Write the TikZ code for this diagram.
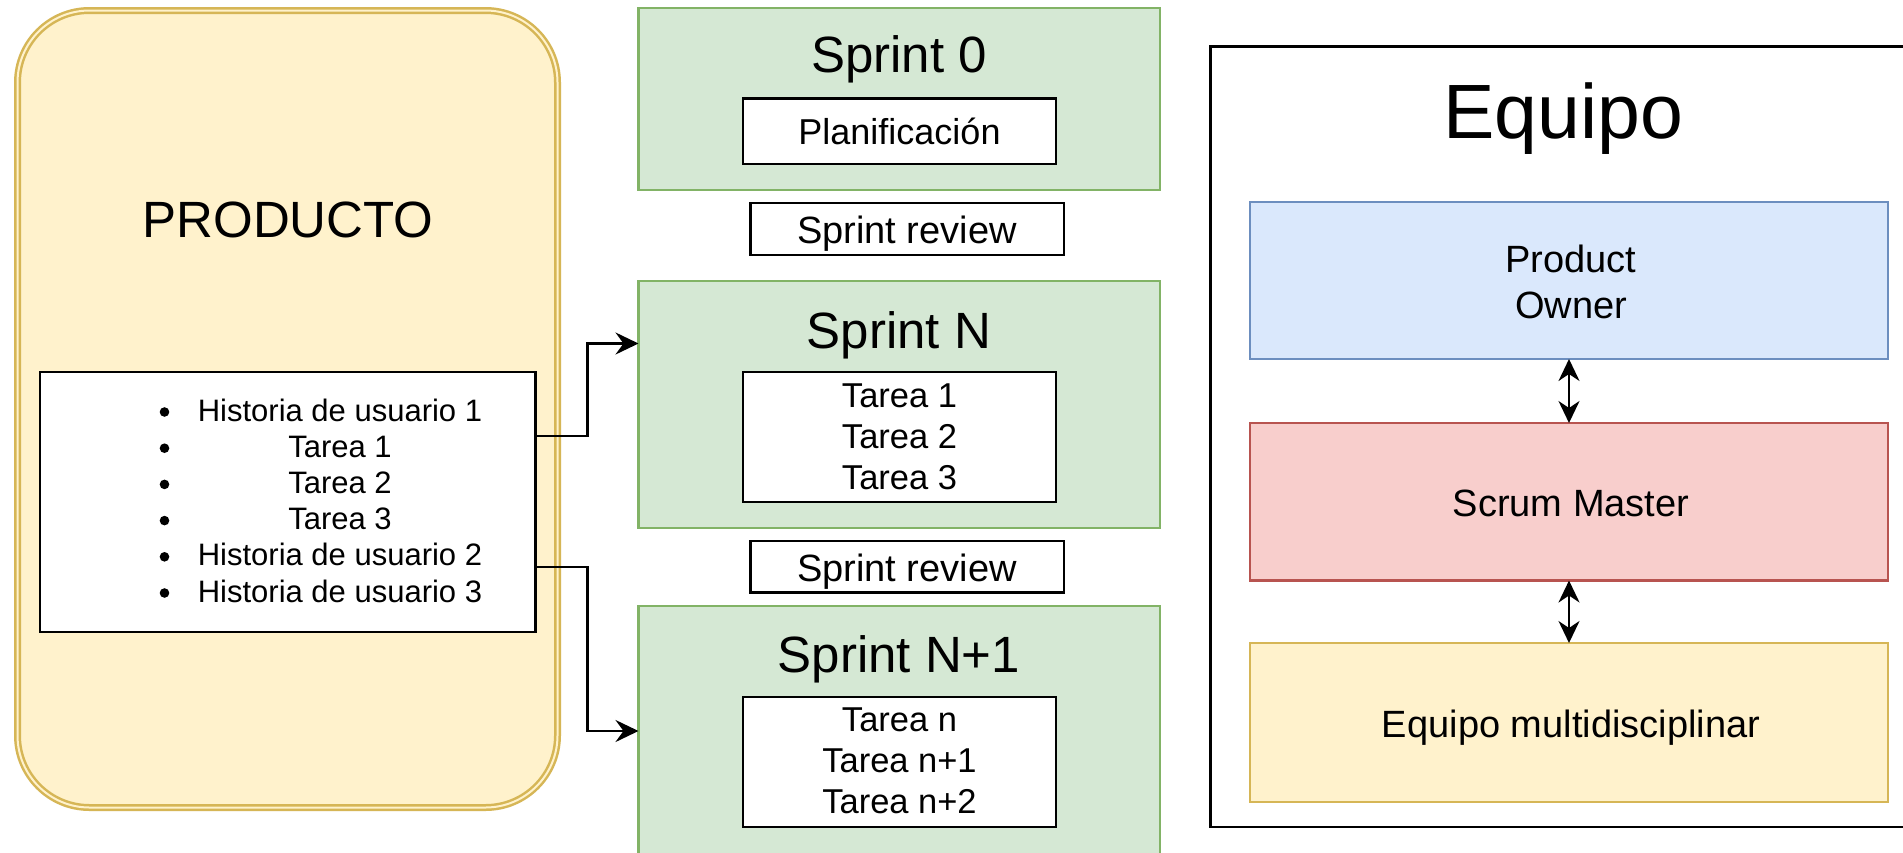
\documentclass[tikz,border=0pt]{standalone}
\usepackage{fontspec}
\setmainfont{Liberation Sans}
\usetikzlibrary{arrows.meta}
\definecolor{prodfill}{HTML}{FFF2CC}
\definecolor{prodstroke}{HTML}{D6B656}
\definecolor{sgfill}{HTML}{D5E8D4}
\definecolor{sgstroke}{HTML}{82B366}
\definecolor{pofill}{HTML}{DAE8FC}
\definecolor{postroke}{HTML}{6C8EBF}
\definecolor{smfill}{HTML}{F8CECC}
\definecolor{smstroke}{HTML}{B85450}
\tikzset{
  fs/.style={font=\fontsize{#1}{#1}\selectfont},
  lbl/.style={inner sep=0pt, anchor=base, text=black},
  boxbase/.style={inner sep=0pt, outer sep=0pt, anchor=north west},
  wbox/.style={boxbase, draw=black, fill=white, line width=2.7pt},
  sprintbox/.style={boxbase, draw=sgstroke, fill=sgfill, line width=2.3pt},
  rolebox/.style={boxbase, line width=2.3pt, minimum width=638pt},
  tip/.style={Stealth[length=23pt,width=22pt,inset=8pt]},
  conn/.style={draw=black, line width=2.8pt, -{Stealth[length=23pt,width=22pt,inset=8pt]}},
  biconn/.style={draw=black, line width=2.5pt, {Stealth[length=22pt,width=21pt,inset=7pt]}-{Stealth[length=22pt,width=21pt,inset=7pt]}},
}
\begin{document}
\begin{tikzpicture}[x=1pt,y=-1pt]
\clip (0,0) rectangle (1903,852);
\fill[white] (0,0) rectangle (1903,852);

% PRODUCTO
\node[boxbase, draw=prodstroke, fill=prodfill, line width=2.5pt, double=prodfill, double distance=2pt,
      rounded corners=72pt, minimum width=540pt, minimum height=797pt] (prod) at (17.5,10.5) {};
\node[lbl, fs=51] (prodt) at (288,237) {PRODUCTO};
\node[wbox, minimum width=495.5pt, minimum height=260pt] (list) at (40,372) {};
\foreach \t [count=\i] in {Historia de usuario 1, Tarea 1, Tarea 2, Tarea 3, Historia de usuario 2, Historia de usuario 3}{
  \node[lbl, fs=31] (li\i) at (340,{421+36.2*(\i-1)}) {\t};
  \fill[black] (164.5,{412+36.2*(\i-1)}) circle (4.8pt);
}

% Sprints
\node[sprintbox, minimum width=521.5pt, minimum height=182pt] (s0) at (638.5,8) {};
\node[lbl, fs=51] (s0t) at (899,72.5) {Sprint 0};
\node[wbox, minimum width=313pt, minimum height=65.5pt] (plan) at (743,98.5) {};
\node[lbl, fs=36] (plant) at (899.5,144.6) {Planificación};

\node[wbox, minimum width=313.5pt, minimum height=52pt] (rev1) at (750.5,203) {};
\node[lbl, fs=38] (rev1t) at (907,243) {Sprint review};

\node[sprintbox, minimum width=521.5pt, minimum height=247pt] (sN) at (638.5,281) {};
\node[lbl, fs=51] (sNt) at (899,348) {Sprint N};
\node[wbox, minimum width=313pt, minimum height=130pt] (tN) at (743,372) {};
\node[lbl, fs=34.5] (tN1) at (899.5,407.6) {Tarea 1};
\node[lbl, fs=34.5] (tN2) at (899.5,448.4) {Tarea 2};
\node[lbl, fs=34.5] (tN3) at (899.5,489) {Tarea 3};

\node[wbox, minimum width=313.5pt, minimum height=51.5pt] (rev2) at (750.5,541) {};
\node[lbl, fs=38] (rev2t) at (907,581.5) {Sprint review};

\node[sprintbox, minimum width=521.5pt, minimum height=274pt] (sN1) at (638.5,606) {};
\node[lbl, fs=51] (sN1t) at (899,672.7) {Sprint N+1};
\node[wbox, minimum width=313pt, minimum height=130pt] (tM) at (743,697) {};
\node[lbl, fs=34.5] (tM1) at (899.5,731) {Tarea n};
\node[lbl, fs=34.5] (tM2) at (899.5,772.7) {Tarea n+1};
\node[lbl, fs=34.5] (tM3) at (899.5,813.4) {Tarea n+2};

% Equipo
\node[boxbase, draw=black, fill=white, line width=2.7pt, minimum width=749.5pt, minimum height=780.3pt] (eq) at (1210.5,46.7) {};
\node[lbl, fs=77] (eqt) at (1563,138.5) {Equipo};
\node[rolebox, draw=postroke, fill=pofill, minimum height=157pt] (po) at (1250,202) {};
\node[lbl, fs=38] (pot1) at (1571,272.2) {Product};
\node[lbl, fs=38] (pot2) at (1571,318.3) {Owner};
\node[rolebox, draw=smstroke, fill=smfill, minimum height=157.5pt] (sm) at (1250,423) {};
\node[lbl, fs=38] (smt) at (1571,516.5) {Scrum Master};
\node[rolebox, draw=prodstroke, fill=prodfill, minimum height=159pt] (em) at (1250,643) {};
\node[lbl, fs=38] (emt) at (1571,737.7) {Equipo multidisciplinar};

% connectors
\draw[conn] ([yshift=66pt]list.east) -- ++(52,0) |- ([yshift=61pt]sN.west);
\draw[conn] ([yshift=-65pt]list.east) -- ++(52,0) |- ([yshift=12pt]sN1.west);
\draw[biconn] (po.south) -- (sm.north);
\draw[biconn] (sm.south) -- (em.north);
\end{tikzpicture}
\end{document}
